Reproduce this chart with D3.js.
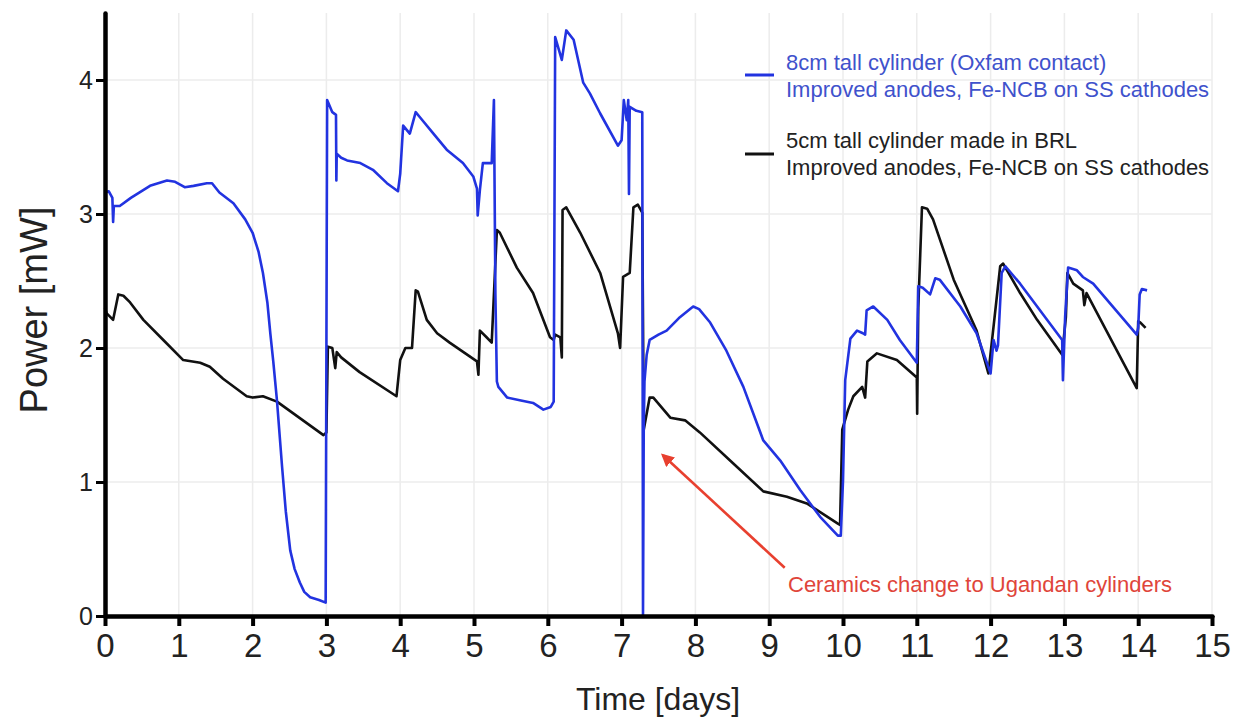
<!DOCTYPE html>
<html><head><meta charset="utf-8">
<script src="https://cdn.jsdelivr.net/npm/d3@7"></script>
<style>body{margin:0;background:#fff;}svg{display:block;font-family:"Liberation Sans",Arial,sans-serif;}</style>
</head><body>
<svg id="c" width="1235" height="718"></svg>
<script>
const xTicks = [0,1,2,3,4,5,6,7,8,9,10,11,12,13,14,15];
const yTicks = [0,1,2,3,4];
const seriesNames = ["8cm tall cylinder (Oxfam contact)", "5cm tall cylinder made in BRL"];
const seriesSub = "Improved anodes, Fe-NCB on SS cathodes";
const annotationText = "Ceramics change to Ugandan cylinders";

const blueSeries = [[0.00,3.16],[0.05,3.17],[0.10,3.12],[0.11,2.94],[0.12,3.06],[0.20,3.06],[0.35,3.12],[0.61,3.21],[0.84,3.25],[0.95,3.24],[1.08,3.20],[1.20,3.21],[1.38,3.23],[1.45,3.23],[1.55,3.16],[1.74,3.08],[1.90,2.96],[2.00,2.86],[2.08,2.72],[2.14,2.56],[2.20,2.34],[2.24,2.11],[2.28,1.90],[2.33,1.61],[2.40,1.11],[2.45,0.78],[2.51,0.49],[2.57,0.35],[2.64,0.25],[2.70,0.18],[2.78,0.14],[2.90,0.12],[2.99,0.10],[3.01,3.85],[3.08,3.76],[3.13,3.74],[3.135,3.25],[3.14,3.45],[3.20,3.42],[3.28,3.40],[3.46,3.38],[3.63,3.33],[3.82,3.23],[3.97,3.17],[4.00,3.30],[4.04,3.66],[4.13,3.60],[4.21,3.76],[4.27,3.72],[4.45,3.60],[4.63,3.48],[4.85,3.38],[4.99,3.28],[5.04,3.19],[5.05,2.99],[5.08,3.18],[5.12,3.38],[5.24,3.38],[5.27,3.85],[5.29,2.40],[5.31,1.75],[5.33,1.71],[5.45,1.63],[5.62,1.61],[5.80,1.59],[5.94,1.54],[6.04,1.56],[6.08,1.60],[6.10,4.32],[6.19,4.15],[6.25,4.37],[6.35,4.30],[6.48,3.98],[6.57,3.90],[6.71,3.75],[6.95,3.51],[7.00,3.55],[7.03,3.85],[7.07,3.70],[7.09,3.85],[7.10,3.15],[7.11,3.80],[7.20,3.77],[7.28,3.76],[7.29,0.00],[7.30,1.40],[7.31,1.75],[7.34,1.95],[7.38,2.06],[7.50,2.10],[7.61,2.13],[7.79,2.23],[7.97,2.31],[8.05,2.29],[8.20,2.19],[8.42,1.98],[8.65,1.71],[8.92,1.31],[9.15,1.16],[9.42,0.94],[9.69,0.74],[9.93,0.60],[9.97,0.60],[10.00,1.01],[10.03,1.76],[10.10,2.07],[10.19,2.13],[10.27,2.11],[10.30,2.10],[10.32,2.28],[10.41,2.31],[10.60,2.21],[10.77,2.06],[11.00,1.89],[11.02,2.46],[11.08,2.45],[11.18,2.40],[11.25,2.52],[11.31,2.51],[11.59,2.31],[11.81,2.11],[12.00,1.81],[12.04,2.06],[12.08,1.98],[12.10,2.02],[12.15,2.56],[12.20,2.61],[12.40,2.48],[12.97,2.06],[12.98,1.76],[13.01,2.23],[13.05,2.60],[13.17,2.58],[13.25,2.53],[13.39,2.48],[13.98,2.10],[14.00,2.15],[14.02,2.40],[14.05,2.44],[14.12,2.43]];

const blackSeries = [[0.00,2.30],[0.02,2.26],[0.11,2.21],[0.18,2.40],[0.25,2.39],[0.34,2.34],[0.52,2.21],[0.79,2.06],[1.06,1.91],[1.29,1.89],[1.42,1.86],[1.60,1.77],[1.92,1.64],[2.00,1.63],[2.14,1.64],[2.33,1.60],[2.96,1.35],[3.00,1.37],[3.02,2.01],[3.08,2.00],[3.12,1.85],[3.14,1.97],[3.20,1.93],[3.45,1.82],[3.95,1.64],[4.00,1.91],[4.07,2.00],[4.16,2.00],[4.21,2.43],[4.24,2.42],[4.36,2.21],[4.50,2.11],[4.67,2.04],[5.04,1.90],[5.06,1.80],[5.08,2.13],[5.17,2.08],[5.24,2.04],[5.31,2.88],[5.35,2.86],[5.58,2.60],[5.80,2.41],[6.03,2.08],[6.08,2.06],[6.10,2.10],[6.17,2.08],[6.19,1.93],[6.20,3.03],[6.25,3.05],[6.44,2.86],[6.71,2.56],[6.95,2.11],[6.98,2.00],[7.02,2.53],[7.11,2.56],[7.16,3.05],[7.22,3.07],[7.28,3.01],[7.30,1.39],[7.38,1.63],[7.43,1.63],[7.66,1.48],[7.86,1.46],[8.06,1.37],[8.51,1.14],[8.92,0.93],[9.24,0.89],[9.51,0.84],[9.93,0.69],[9.96,0.68],[9.99,1.39],[10.07,1.54],[10.14,1.64],[10.26,1.71],[10.30,1.63],[10.33,1.90],[10.46,1.96],[10.73,1.91],[11.00,1.78],[11.005,1.51],[11.02,2.30],[11.07,3.05],[11.14,3.04],[11.22,2.96],[11.50,2.51],[11.81,2.13],[11.97,1.81],[12.13,2.61],[12.17,2.63],[12.40,2.41],[12.63,2.21],[12.97,1.95],[13.02,2.23],[13.04,2.56],[13.12,2.48],[13.25,2.43],[13.27,2.32],[13.30,2.41],[13.98,1.70],[14.00,2.20],[14.03,2.19],[14.10,2.15]];

const arrowTail = [9.21, 0.36];
const arrowHead = [7.56, 1.20];

const W = 1235, H = 718;
const m = {left:105, right:1212, top:13, bottom:616};
const svg = d3.select("#c");
const x = d3.scaleLinear().domain([0,15]).range([m.left, m.right]);
const y = d3.scaleLinear().domain([0,4.5]).range([m.bottom, m.top]);

// grid
const grid = svg.append("g").attr("stroke","#ececec").attr("stroke-width",1.5);
grid.selectAll(".gx").data(xTicks.slice(1)).join("line")
  .attr("x1",d=>x(d)).attr("x2",d=>x(d)).attr("y1",y(0)).attr("y2",y(4.5));
grid.selectAll(".gy").data(yTicks.slice(1)).join("line")
  .attr("x1",x(0)).attr("x2",x(15)).attr("y1",d=>y(d)).attr("y2",d=>y(d));

// lines
const line = d3.line().x(d=>x(d[0])).y(d=>y(d[1]));
svg.append("path").datum(blackSeries).attr("d",line).attr("fill","none")
  .attr("stroke","#111").attr("stroke-width",2.6).attr("stroke-linejoin","round");
svg.append("path").datum(blueSeries).attr("d",line).attr("fill","none")
  .attr("stroke","#2233e0").attr("stroke-width",2.6).attr("stroke-linejoin","round");

// axes
const xAxis = svg.append("g").attr("transform",`translate(0,${m.bottom})`)
  .call(d3.axisBottom(x).tickValues(xTicks).tickSize(10).tickSizeOuter(0).tickPadding(8).tickFormat(d3.format("d")));
xAxis.select(".domain").attr("stroke","#000").attr("stroke-width",4.5).attr("stroke-linecap","round");
xAxis.selectAll(".tick line").attr("stroke","#000").attr("stroke-width",4);
xAxis.selectAll(".tick text").attr("font-size",33).attr("fill","#222").attr("font-family","Liberation Sans, Arial, sans-serif");

const yAxis = svg.append("g").attr("transform",`translate(${m.left},0)`)
  .call(d3.axisLeft(y).tickValues(yTicks).tickSize(9).tickSizeOuter(0).tickPadding(3).tickFormat(d3.format("d")));
yAxis.select(".domain").attr("stroke","#000").attr("stroke-width",4.5).attr("stroke-linecap","round");
yAxis.selectAll(".tick line").attr("stroke","#000").attr("stroke-width",3);
yAxis.selectAll(".tick text").attr("font-size",25).attr("fill","#222").attr("font-family","Liberation Sans, Arial, sans-serif");

// axis titles
svg.append("text").attr("x",658).attr("y",710).attr("text-anchor","middle")
  .attr("font-size",32).attr("fill","#222").text("Time [days]");
svg.append("text").attr("transform","translate(47,310) rotate(-90)").attr("text-anchor","middle")
  .attr("font-size",38).attr("fill","#222").text("Power [mW]");

// legend
const leg = [
  {color:"#2233e0", text:"#3f52cc", y1:70, lineY:75},
  {color:"#111", text:"#222", y1:148, lineY:154}
];
leg.forEach((l,i)=>{
  svg.append("line").attr("x1",745).attr("x2",774).attr("y1",l.lineY).attr("y2",l.lineY)
    .attr("stroke",l.color).attr("stroke-width",3);
  svg.append("text").attr("x",786).attr("y",l.y1).attr("font-size",22).attr("fill",l.text).text(seriesNames[i]);
  svg.append("text").attr("x",786).attr("y",l.y1+27).attr("font-size",22).attr("fill",l.text).text(seriesSub);
});

// annotation
svg.append("defs").append("marker").attr("id","ah").attr("viewBox","0 0 10 10")
  .attr("refX",8).attr("refY",5).attr("markerWidth",5).attr("markerHeight",5).attr("orient","auto")
  .append("path").attr("d","M0,0 L10,5 L0,10 z").attr("fill","#e8402f");
svg.append("line").attr("x1",x(arrowTail[0])).attr("y1",y(arrowTail[1]))
  .attr("x2",x(arrowHead[0])).attr("y2",y(arrowHead[1]))
  .attr("stroke","#e8402f").attr("stroke-width",2.6).attr("marker-end","url(#ah)");
svg.append("text").attr("x",788).attr("y",592).attr("font-size",22).attr("fill","#e0453a").text(annotationText);
</script>
</body></html>
